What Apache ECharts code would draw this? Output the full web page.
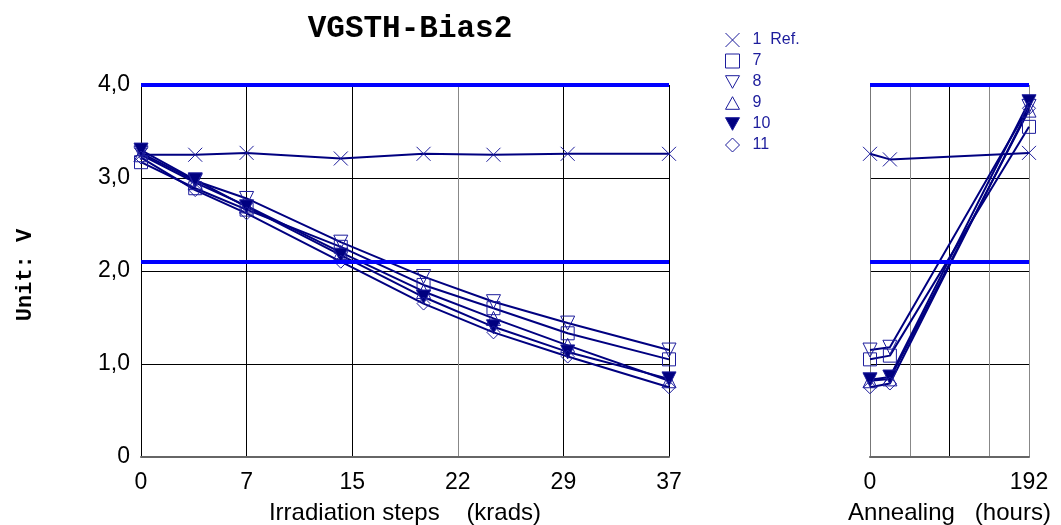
<!DOCTYPE html>
<html>
<head>
<meta charset="utf-8">
<script src="https://cdn.jsdelivr.net/npm/echarts@6/dist/echarts.min.js"></script>
<style>html,body{margin:0;padding:0;background:#fff}#c{width:1061px;height:525px}</style>
</head>
<body>
<div id="c"></div>
<script>
// ---- data ----
const irrX = [0, 3.8, 7.4, 14, 19.8, 24.7, 29.9, 37];
const irrTickLabels = ['0', '7', '15', '22', '29', '37'];
const annX = [0, 24, 192];
const annTickLabels = ['0', '', '', '', '192'];
const yTickLabels = ['0', '1,0', '2,0', '3,0', '4,0'];
const limits = [4.0, 2.1];

const names = ['1  Ref.', '7', '8', '9', '10', '11'];
const irr_ref1 = [3.25, 3.25, 3.27, 3.21, 3.26, 3.25, 3.26, 3.26];
const irr_7  = [3.17, 2.89, 2.66, 2.26, 1.85, 1.60, 1.33, 1.05];
const irr_8  = [3.27, 2.97, 2.78, 2.31, 1.94, 1.67, 1.44, 1.15];
const irr_9  = [3.25, 2.95, 2.70, 2.20, 1.78, 1.49, 1.20, 0.82];
const irr_10 = [3.30, 2.98, 2.69, 2.17, 1.72, 1.40, 1.13, 0.84];
const irr_11 = [3.22, 2.87, 2.62, 2.10, 1.65, 1.34, 1.08, 0.75];

const ann_ref1 = [3.26, 3.20, 3.27];
const ann_7  = [1.05, 1.09, 3.55];
const ann_8  = [1.15, 1.18, 3.77];
const ann_9  = [0.82, 0.84, 3.73];
const ann_10 = [0.83, 0.86, 3.82];
const ann_11 = [0.75, 0.79, 3.75];

// ---- styling ----
const LINE = '#000080';
const MK = '#1c1c9c';
const symbols = [
  {icon: 'path://M0,0L10,10M10,0L0,10', fill: 'transparent', size: 14},
  {icon: 'path://M0,0L10,0L10,10L0,10Z', fill: 'transparent', size: 13},
  {icon: 'path://M0,0L10,0L5,9Z', fill: 'transparent', size: 14},
  {icon: 'path://M5,0L10,9L0,9Z', fill: 'transparent', size: 14},
  {icon: 'path://M0,0L10,0L5,9Z', fill: LINE, size: 14},
  {icon: 'path://M5,0L10,5L5,10L0,5Z', fill: 'transparent', size: 13}
];

const irrSets = [irr_ref1, irr_7, irr_8, irr_9, irr_10, irr_11];
const annSets = [ann_ref1, ann_7, ann_8, ann_9, ann_10, ann_11];

function mkSeries(xs, ys, i, gi) {
  const s = symbols[i];
  return {
    type: 'line', name: names[i], xAxisIndex: gi, yAxisIndex: gi,
    data: xs.map((x, k) => [x, ys[k]]),
    symbol: s.icon, symbolSize: s.size, showAllSymbol: true, clip: false,
    lineStyle: {color: LINE, width: 2},
    itemStyle: {color: s.fill, borderColor: MK, borderWidth: 1},
    emphasis: {disabled: true}, animation: false, z: 3
  };
}

const series = [];
irrSets.forEach((ys, i) => series.push(mkSeries(irrX, ys, i, 0)));
annSets.forEach((ys, i) => series.push(mkSeries(annX, ys, i, 1)));
[0, 1].forEach(gi => series.push({
  type: 'line', xAxisIndex: gi, yAxisIndex: gi, data: [], z: 2, animation: false,
  markLine: {
    silent: true, symbol: 'none', animation: false,
    label: {show: false},
    lineStyle: {color: '#0000FF', width: 4, type: 'solid'},
    data: limits.map(v => ({yAxis: v}))
  }
}));

const SANS = 'Liberation Sans, Arial, sans-serif';
const tickFont = {fontFamily: SANS, fontSize: 23, color: '#000'};
const nameFont = {fontFamily: SANS, fontSize: 24, color: '#000'};

function yAxis(gi, showLabels) {
  return {
    type: 'value', gridIndex: gi, min: 0, max: 4, interval: 1,
    axisLine: {show: true, lineStyle: {color: gi === 0 ? '#000' : '#777', width: 1}},
    axisTick: {show: false},
    axisLabel: Object.assign({show: showLabels, margin: 11,
      formatter: v => yTickLabels[Math.round(v)]}, tickFont),
    splitLine: {show: true, lineStyle: {color: '#000', width: 1}}
  };
}

const option = {
  backgroundColor: '#fff',
  animation: false,
  title: {
    text: 'VGSTH-Bias2', left: 405, top: 9, textAlign: 'center',
    textStyle: {fontFamily: 'Liberation Mono, Courier New, monospace', fontWeight: 'bold', fontSize: 31, color: '#000'}
  },
  legend: {
    orient: 'vertical', left: 720, top: 27, itemWidth: 14, itemHeight: 14, itemGap: 5,
    selectedMode: false,
    textStyle: {fontFamily: SANS, fontSize: 16, color: '#1c1c9c', padding: [0, 0, 0, 8]},
    data: names.map((n, i) => ({
      name: n, icon: symbols[i].icon,
      itemStyle: {color: symbols[i].fill, borderColor: MK, borderWidth: 1}
    }))
  },
  grid: [
    {left: 141, top: 85, width: 528, bottom: 68, containLabel: false, outerBoundsMode: 'none'},
    {left: 870, top: 85, width: 159, bottom: 68, containLabel: false, outerBoundsMode: 'none'}
  ],
  xAxis: [
    {
      type: 'value', gridIndex: 0, min: 0, max: 37, interval: 7.4,
      name: 'Irradiation steps    (krads)', nameLocation: 'middle', nameGap: 44,
      nameTextStyle: nameFont,
      axisLine: {show: true, lineStyle: {color: '#666', width: 2}},
      axisTick: {show: false},
      axisLabel: Object.assign({margin: 14, formatter: v => irrTickLabels[Math.round(v / 7.4)]}, tickFont),
      splitLine: {show: true, lineStyle: {color: ['#000', '#000', '#000', '#888', '#000', '#000'], width: 1}}
    },
    {
      type: 'value', gridIndex: 1, min: 0, max: 192, interval: 48,
      name: 'Annealing   (hours)', nameLocation: 'middle', nameGap: 44,
      nameTextStyle: nameFont,
      axisLine: {show: true, lineStyle: {color: '#666', width: 2}},
      axisTick: {show: false},
      axisLabel: Object.assign({margin: 14, showMaxLabel: true, formatter: v => annTickLabels[Math.round(v / 48)]}, tickFont),
      splitLine: {show: true, lineStyle: {color: ['#888', '#888', '#000', '#888', '#888'], width: 1}}
    }
  ],
  yAxis: [yAxis(0, true), yAxis(1, false)],
  graphic: [{
    type: 'text', x: 25, y: 275, rotation: Math.PI / 2,
    style: {text: 'Unit: V', fill: '#000', font: 'bold 22px "Liberation Mono", "Courier New", monospace',
      align: 'center', verticalAlign: 'middle'}
  }],
  series: series
};

const chart = echarts.init(document.getElementById('c'), null, {renderer: 'canvas'});
chart.setOption(option);
</script>
</body>
</html>
